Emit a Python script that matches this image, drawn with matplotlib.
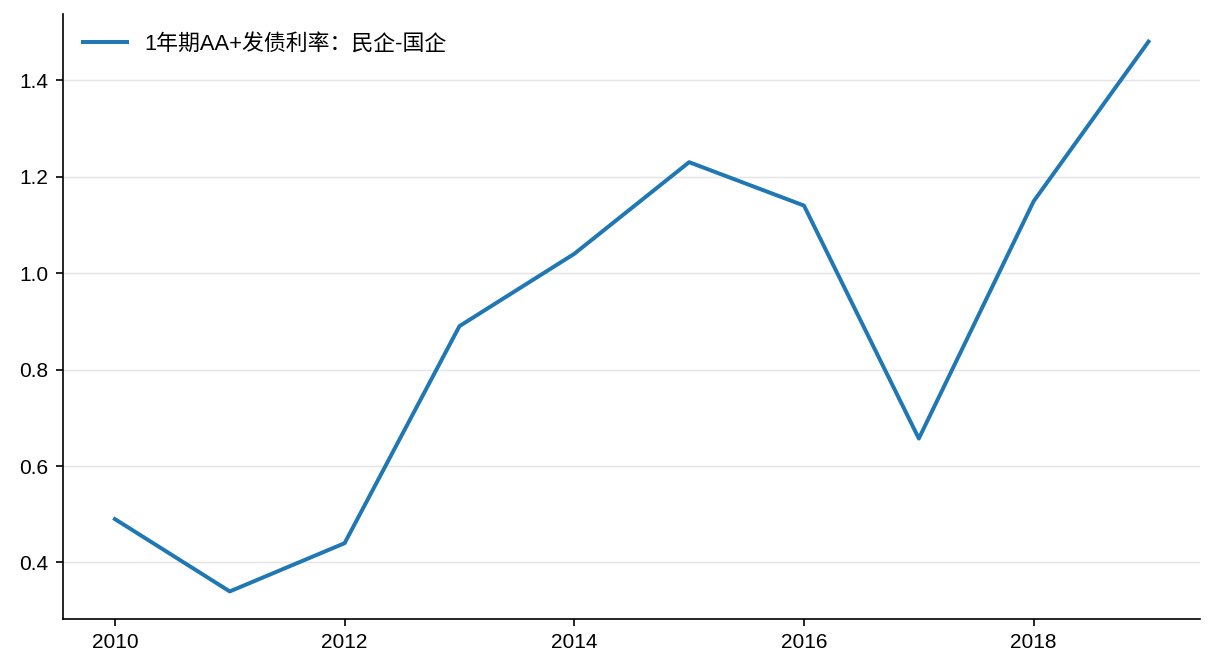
import matplotlib
matplotlib.use("Agg")
import matplotlib.pyplot as plt

plt.rcParams['font.family'] = ['Liberation Sans', 'Noto Sans CJK SC', 'DejaVu Sans']
plt.rcParams['axes.unicode_minus'] = False

# 数据
years = [2010, 2011, 2012, 2013, 2014, 2015, 2016, 2017, 2018, 2019]
spread = [0.49, 0.34, 0.44, 0.89, 1.04, 1.23, 1.14, 0.657, 1.149, 1.48]
label = '1年期AA+发债利率：民企-国企'

fig, ax = plt.subplots(figsize=(1216 / 150, 672 / 150), dpi=150)
fig.subplots_adjust(left=0.052, right=0.987, top=0.979, bottom=0.079)

ax.plot(years, spread, color='#1f77b4', linewidth=1.9, label=label)

ax.set_xticks([2010, 2012, 2014, 2016, 2018])
ax.set_yticks([0.4, 0.6, 0.8, 1.0, 1.2, 1.4])
ax.tick_params(labelsize=10)
ax.grid(axis='y', color='#e5e5e5', linewidth=0.7)
ax.set_axisbelow(True)
ax.spines['top'].set_visible(False)
ax.spines['right'].set_visible(False)

ax.legend(loc='upper left', frameon=False, fontsize=10.5)

fig.savefig('out.png', dpi=150)
